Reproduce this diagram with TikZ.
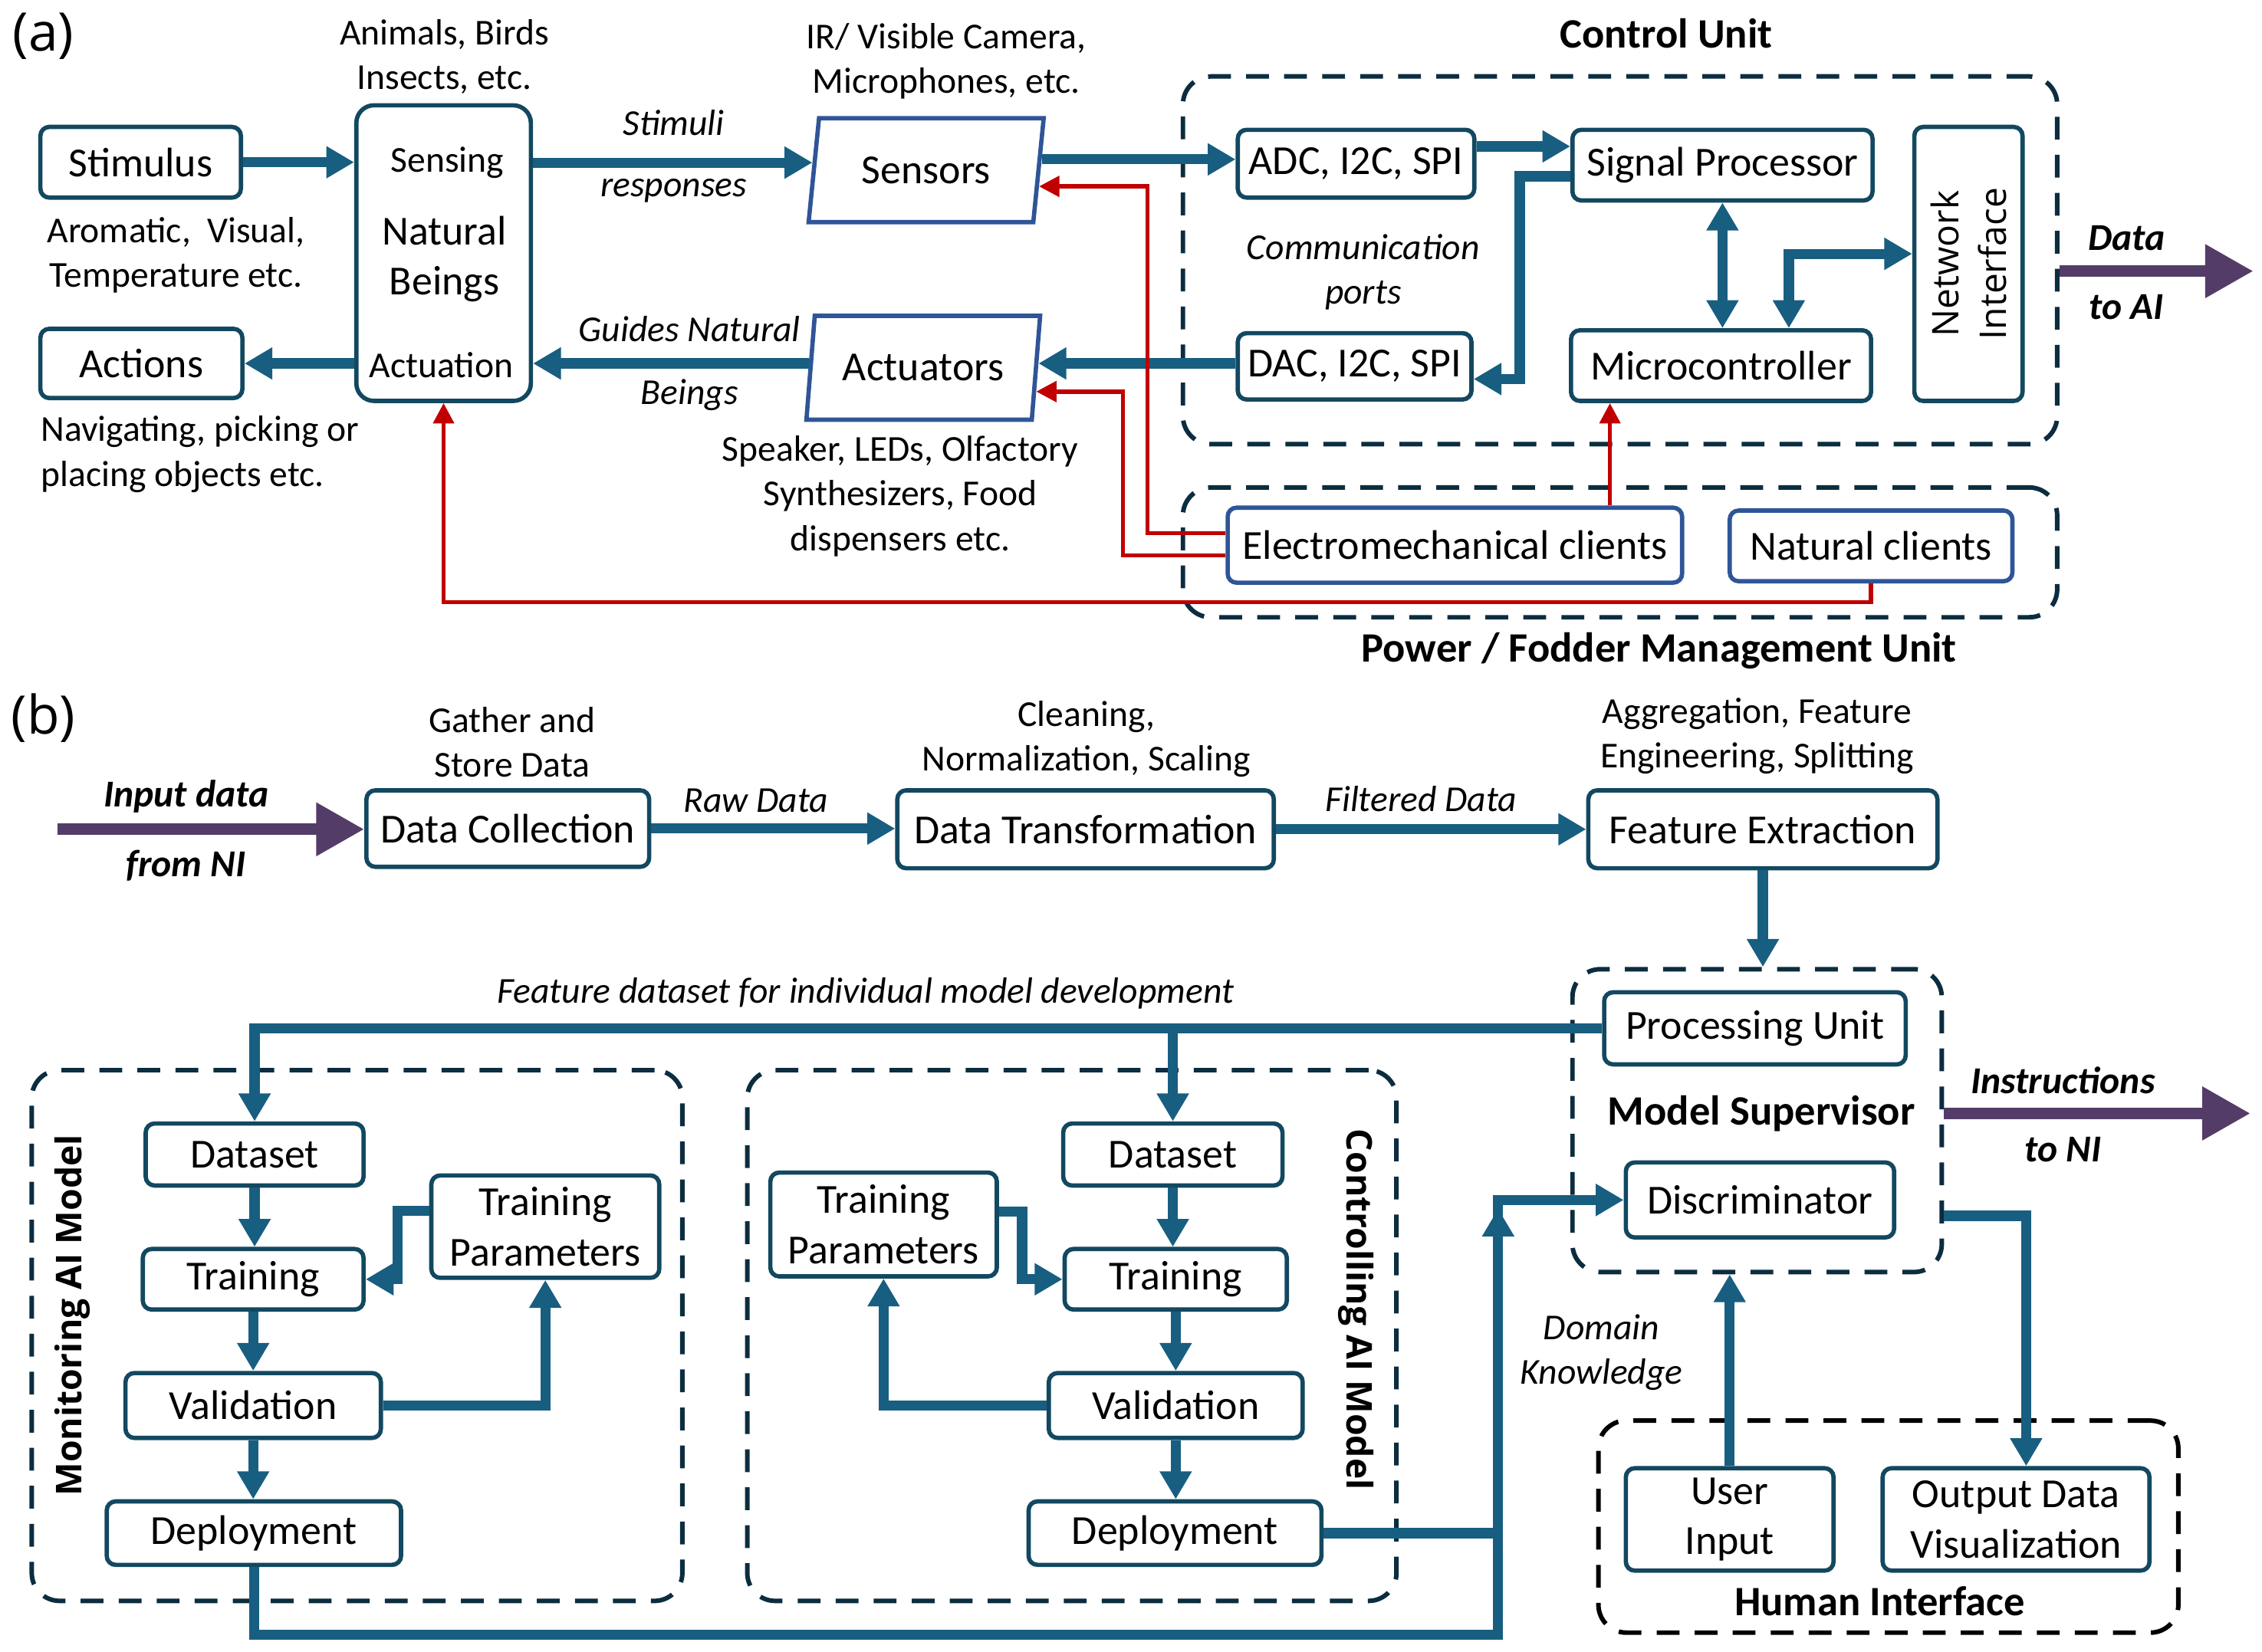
\documentclass[tikz,border=0pt]{standalone}
\usepackage{fontspec}
\setmainfont{Carlito}
\newfontfamily\osans{Open Sans}
\usetikzlibrary{arrows.meta,shapes.geometric,calc}
\definecolor{boxline}{RGB}{18,72,96}
\definecolor{arrowc}{RGB}{24,94,128}
\definecolor{pblue}{RGB}{47,85,151}
\definecolor{redc}{RGB}{192,0,0}
\definecolor{purp}{RGB}{84,60,104}
\definecolor{dashc}{RGB}{12,45,64}
\newcommand\bxf{\fontsize{16.3}{19.8}\selectfont}
\newcommand\anf{\fontsize{14.4}{17.6}\selectfont}
\newcommand\ttlf{\bfseries\fontsize{16.5}{19}\selectfont}
\begin{document}
\begin{tikzpicture}[x=0.02cm,y=-0.02cm,
  box/.style={draw=boxline, line width=1.7pt, rounded corners=3.5pt, fill=white, inner sep=0pt, align=center, font=\bxf, text=black},
  sz/.style 2 args={minimum width=#1*0.02cm, minimum height=#2*0.02cm},
  pbox/.style={box, draw=pblue},
  para/.style={trapezium, trapezium left angle=77, trapezium right angle=103, trapezium stretches=true, draw=pblue, line width=1.7pt, inner sep=0pt, font=\bxf, fill=white},
  dbox/.style={draw=dashc, line width=1.8pt, dash pattern=on 9pt off 6pt, rounded corners=11pt, inner sep=0pt},
  ann/.style={font=\anf, align=center, inner sep=0pt},
  ita/.style={font=\anf\itshape, align=center, inner sep=0pt},
  bita/.style={font=\fontsize{15}{17}\selectfont\bfseries\itshape, inner sep=0pt},
  ttl/.style={font=\ttlf, inner sep=0pt},
  arr/.style={draw=arrowc, line width=4pt, -{Triangle[width=12pt,length=11pt]}},
  arr2/.style={draw=arrowc, line width=4pt, {Triangle[width=12pt,length=11pt]}-{Triangle[width=12pt,length=11pt]}},
  rarr/.style={draw=redc, line width=1.7pt, -{Triangle[width=8pt,length=8pt]}},
  parr/.style={draw=purp, line width=4.5pt, -{Triangle[width=20pt,length=19pt]}}
]
\useasboundingbox (0,0) rectangle (1568,1145);

% ================= panel (a) =================
\node[inner sep=0pt, font=\osans\fontsize{21}{24}\selectfont] (la) at (30,25) {(a)};

% dashed containers
\node[dbox, sz={606}{255}] (cu) at (1123,180.5) {};
\node[dbox, sz={606}{90}] (pf) at (1123,383) {};
\node[ttl] (cut) at (1155,23) {Control Unit};
\node[ttl] (pft) at (1150,451) {Power / Fodder Management Unit};

% boxes
\node[box, sz={139}{49}] (stim) at (97.5,112.5) {Stimulus};
\node[box, sz={140}{48}] (act) at (98,252) {Actions};
\node[box, sz={121}{205}, rounded corners=7pt] (nb) at (307.5,175.5) {};
\node[ann] (nbs) at (310,113) {Sensing};
\node[inner sep=0pt, font=\bxf, align=center] (nbn) at (308,179.5) {Natural\\Beings};
\node[ann] (nba) at (306,253) {Actuation};

\node[para, sz={163}{72}] (sen) at (642,118) {Sensors};
\node[para, sz={163}{72}] (actu) at (640,255) {Actuators};

\node[box, sz={164}{47}] (adc) at (940,113.5) {ADC, I2C, SPI};
\node[box, sz={162}{46}] (dac) at (939,254) {DAC, I2C, SPI};
\node[box, sz={208}{49}] (sp) at (1194,114.5) {Signal Processor};
\node[box, sz={208}{49}] (mc) at (1193,253.5) {Microcontroller};
\node[box, sz={75}{190}] (ni) at (1364.5,183) {};
\node[inner sep=0pt, align=center, font=\osans\fontsize{14.5}{18.7}\selectfont, rotate=90] (nit) at (ni.center) {Network\\Interface};

\node[pbox, sz={315}{52}] (em) at (1008.5,378) {Electromechanical clients};
\node[pbox, sz={196}{49}] (nc) at (1297,378.5) {Natural clients};

% annotations
\node[ann] (t1) at (308,39.5) {Animals, Birds\\Insects, etc.};
\node[ann] (t2) at (122,177) {Aromatic,\ \ Visual,\\Temperature etc.};
\node[ann, align=left, anchor=west] (t3) at (28,315) {Navigating, picking or\\placing objects etc.};
\node[ann] (t4) at (656,42.5) {IR/ Visible Camera,\\Microphones, etc.};
\node[ann] (t5) at (624,344) {Speaker, LEDs, Olfactory\\Synthesizers, Food\\dispensers etc.};
\node[ita] (l1) at (467,85) {Stimuli};
\node[ita] (l2) at (467,132) {responses};
\node[ita] (l3) at (478,228) {Guides Natural};
\node[ita] (l4) at (478,274) {Beings};
\node[ita] (l5) at (945,188.5) {Communication\\ports};
\node[bita] (l6) at (1474,165) {Data};
\node[bita] (l7) at (1474,213) {to AI};

% connectors (a)
\draw[arr] (stim.east) -- (stim.east -| nb.west);
\draw[arr] (nb.west |- act.east) -- (act.east);
\coordinate (senL) at ($(sen.top left corner)!0.43!(sen.bottom left corner)$);
\draw[arr] (senL -| nb.east) -- (senL);
\coordinate (actL) at ($(actu.top left corner)!0.46!(actu.bottom left corner)$);
\draw[arr] (actL) -- (actL -| nb.east);
\coordinate (senR) at ($(sen.top right corner)!0.40!(sen.bottom right corner)$);
\draw[arr] (senR) -- (senR -| adc.west);
\coordinate (actR) at ($(actu.top right corner)!0.46!(actu.bottom right corner)$);
\draw[arr] (actR -| dac.west) -- (actR);
\coordinate (a1) at ($(adc.north east)!0.26!(adc.south east)$);
\draw[arr] (a1) -- (a1 -| sp.west);
\coordinate (s1) at ($(sp.north west)!0.65!(sp.south west)$);
\draw[arr] (s1) -- ++(-35,0) |- ($(dac.north east)!0.68!(dac.south east)$);
\draw[arr2] (sp.south) -- (sp.south |- mc.north);
\draw[arr2] ($(mc.north)+(47,0)$) |- ($(ni.west)+(0,-7)$);
\coordinate (dataAI) at (1562,188);
\draw[parr] (dataAI -| cu.east) -- (dataAI);

\draw[rarr] ($(em.north west)!0.35!(em.south west)$) -- ++(-54,0) |- ($(sen.top right corner)!0.65!(sen.bottom right corner)$);
\draw[rarr] ($(em.north west)!0.63!(em.south west)$) -- ++(-71,0) |- ($(actu.top right corner)!0.72!(actu.bottom right corner)$);
\coordinate (mcr) at ($(mc.south west)!0.135!(mc.south east)$);
\draw[rarr] (em.north -| mcr) -- (mcr);
\draw[rarr] (nc.south) -- ++(0,13) -| (nb.south);

% ================= panel (b) =================
\node[inner sep=0pt, font=\osans\fontsize{21}{24}\selectfont] (lb) at (30,498) {(b)};

\node[dbox, sz={256}{210}] (ms) at (1218,777) {};
\node[dbox, sz={451}{368}] (mon) at (247.5,926) {};
\node[dbox, sz={450}{368}] (con) at (743,926) {};
\node[dbox, sz={402}{147}, draw=black] (hi) at (1309,1058.5) {};
\node[ttl] (mst) at (1221,772) {Model Supervisor};
\node[ttl] (hit) at (1303,1110) {Human Interface};
\node[inner sep=0pt, font=\osans\bfseries\fontsize{14}{16}\selectfont, rotate=90] (mont) at (50,912) {Monitoring AI Model};
\node[inner sep=0pt, font=\osans\bfseries\fontsize{14}{16}\selectfont, rotate=-90] (cont) at (940,908) {Controlling AI Model};

\node[box, sz={196}{53}] (dc) at (352,574.5) {Data Collection};
\node[box, sz={261}{54}] (dt) at (752.5,575) {Data Transformation};
\node[box, sz={242}{54}] (fe) at (1222,575) {Feature Extraction};
\node[box, sz={209}{50}] (pu) at (1216.5,713) {Processing Unit};
\node[box, sz={186}{52}] (disc) at (1220,832) {Discriminator};

\node[box, sz={151}{43}] (md) at (176.5,800.5) {Dataset};
\node[box, sz={153}{42}] (mt) at (175.5,887) {Training};
\node[box, sz={158}{71}] (mtp) at (378,850.5) {Training\\Parameters};
\node[box, sz={177}{45}] (mv) at (175.5,974.5) {Validation};
\node[box, sz={204}{44}] (mdep) at (176,1063) {Deployment};

\node[box, sz={152}{43}] (cd) at (813,800.5) {Dataset};
\node[box, sz={154}{42}] (ct) at (815,887) {Training};
\node[box, sz={157}{72}] (ctp) at (612.5,849) {Training\\Parameters};
\node[box, sz={176}{45}] (cv) at (815,974.5) {Validation};
\node[box, sz={203}{44}] (cdep) at (814.5,1063) {Deployment};

\node[box, sz={144}{71}] (ui) at (1199,1053.5) {User\\Input};
\node[box, sz={185}{71}] (odv) at (1397.5,1053.5) {Output Data\\Visualization};

% annotations (b)
\node[ann] (g1) at (355,514.5) {Gather and\\Store Data};
\node[ann] (g2) at (753,512.5) {Cleaning,\\Normalization, Scaling};
\node[ann] (g3) at (1218,510.5) {Aggregation, Feature\\Engineering, Splitting};
\node[bita] (g4) at (129,552) {Input data};
\node[bita] (g5) at (129,600) {from NI};
\node[ita] (g6) at (524,555) {Raw Data};
\node[ita] (g7) at (985,554) {Filtered Data};
\node[ita] (g8) at (600,689) {Feature dataset for individual model development};
\node[bita] (g9) at (1430,749) {Instructions};
\node[bita] (g10) at (1430,797) {to NI};
\node[ita] (g11) at (1110,937.5) {Domain\\Knowledge};

% connectors (b)
\coordinate (inNI) at (40,575);
\draw[parr] (inNI) -- (inNI -| dc.west);
\draw[arr] (dc.east) -- (dc.east -| dt.west);
\draw[arr] (dt.east) -- (dt.east -| fe.west);
\draw[arr] (fe.south) -- (fe.south |- ms.north);
\draw[arr] (pu.west) -| (md.north);
\draw[arr] (pu.west -| cd.north) -- (cd.north);
\coordinate (toNI) at (1560,772);
\draw[parr] (toNI -| ms.east) -- (toNI);

\draw[arr] (md.south) -- (md.south |- mt.north);
\draw[arr] (mt.south) -- (mt.south |- mv.north);
\draw[arr] (mv.south) -- (mv.south |- mdep.north);
\draw[arr] ($(mtp.north west)!0.35!(mtp.south west)$) -- ++(-22,0) |- (mt.east);
\draw[arr] (mv.east) -| (mtp.south);

\draw[arr] (cd.south) -- (cd.south |- ct.north);
\draw[arr] (ct.south) -- (ct.south |- cv.north);
\draw[arr] (cv.south) -- (cv.south |- cdep.north);
\draw[arr] ($(ctp.north east)!0.38!(ctp.south east)$) -- ++(16,0) |- (ct.west);
\draw[arr] (cv.west) -| (ctp.south);

\draw[arr] (mdep.south) -- ++(0,47) -| ($(disc.west)+(-87,0)$) -- (disc.west);
\draw[arr] (cdep.east) -| ($(disc.west)+(-87,6)$);
\draw[arr] (ui.north) -- (ui.north |- ms.south);
\draw[arr] ($(ms.east |- disc.east)+(0,11)$) -| ($(odv.north)+(7,0)$);
\end{tikzpicture}
\end{document}
